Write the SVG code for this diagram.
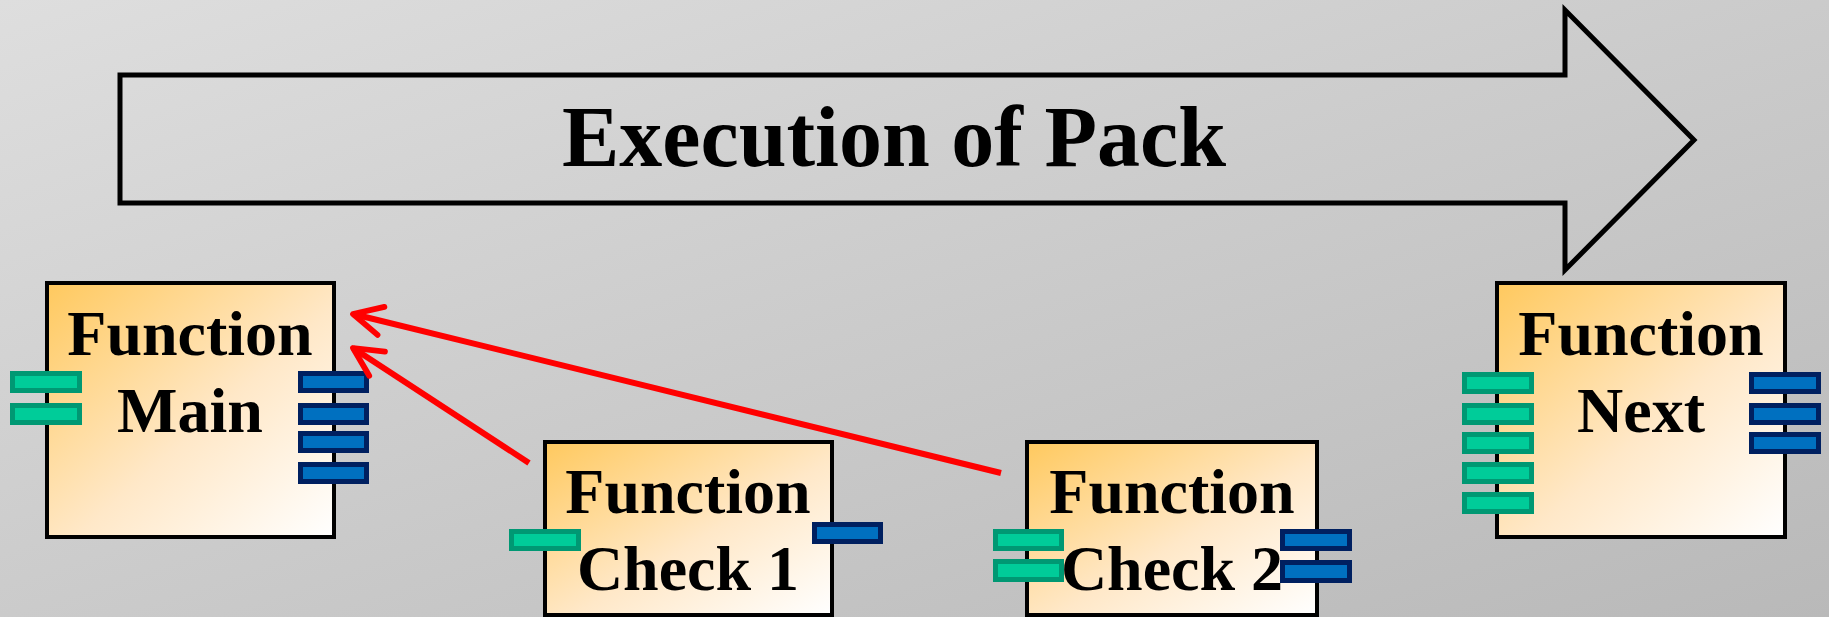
<svg xmlns="http://www.w3.org/2000/svg" width="1829" height="617" viewBox="0 0 1829 617">
  <defs>
    <linearGradient id="bg" x1="0" y1="0" x2="1" y2="1">
      <stop offset="0" stop-color="#dedede"/>
      <stop offset="0.5" stop-color="#cbcbcb"/>
      <stop offset="1" stop-color="#b9b9b9"/>
    </linearGradient>
    <linearGradient id="boxfill" x1="0" y1="0" x2="1" y2="1">
      <stop offset="0" stop-color="#ffc95e"/>
      <stop offset="0.55" stop-color="#ffe8c8"/>
      <stop offset="1" stop-color="#ffffff"/>
    </linearGradient>
    <marker id="openhead" viewBox="0 0 10 10" refX="9" refY="5" markerWidth="6" markerHeight="6" markerUnits="strokeWidth" orient="auto">
      <path d="M1,1 L9,5 L1,9" fill="none" stroke="#ff0000" stroke-width="1.6" stroke-linecap="round" stroke-linejoin="round"/>
    </marker>
    <style>
      .box { fill: url(#boxfill); stroke: #000; stroke-width: 4; }
      .lbl { font-family: "Liberation Serif", "Times New Roman", serif; font-weight: bold; font-size: 64px; fill: #000; text-anchor: middle; }
      .title { font-family: "Liberation Serif", "Times New Roman", serif; font-weight: bold; font-size: 86px; fill: #000; text-anchor: middle; }
      .pin { fill: #00cc99; stroke: #009873; stroke-width: 5; }
      .pout { fill: #0070c0; stroke: #002060; stroke-width: 5; }
      .conn { fill: none; stroke: #ff0000; stroke-width: 6; marker-end: url(#openhead); }
    </style>
  </defs>
  <rect x="0" y="0" width="1829" height="617" fill="url(#bg)"/>

  <g id="execution-arrow">
    <path d="M120,75 L1565,75 L1565,10 L1694,140 L1565,270 L1565,203 L120,203 Z" fill="none" stroke="#000" stroke-width="5" stroke-linejoin="miter"/>
    <text class="title" x="894" y="166">Execution of Pack</text>
  </g>

  <g id="function-main">
    <rect class="box" x="47" y="283" width="287" height="254"/>
    <text class="lbl" x="190" y="355">Function</text>
    <text class="lbl" x="190" y="432">Main</text>
    <rect class="pin" x="12.5" y="373.5" width="67" height="17"/>
    <rect class="pin" x="12.5" y="405.5" width="67" height="17"/>
    <rect class="pout" x="300.5" y="373.5" width="66" height="17"/>
    <rect class="pout" x="300.5" y="405.5" width="66" height="17"/>
    <rect class="pout" x="300.5" y="433.5" width="66" height="17"/>
    <rect class="pout" x="300.5" y="464.5" width="66" height="17"/>
  </g>

  <g id="function-check1">
    <rect class="box" x="545" y="442" width="287" height="173"/>
    <text class="lbl" x="688" y="513">Function</text>
    <text class="lbl" x="688" y="590">Check 1</text>
    <rect class="pin" x="511.5" y="531.5" width="67" height="17"/>
    <rect class="pout" x="814.5" y="524.5" width="66" height="17"/>
  </g>

  <g id="function-check2">
    <rect class="box" x="1027" y="442" width="290" height="173"/>
    <text class="lbl" x="1172" y="513">Function</text>
    <text class="lbl" x="1172" y="590">Check 2</text>
    <rect class="pin" x="995.5" y="531.5" width="66" height="17"/>
    <rect class="pin" x="995.5" y="561.5" width="66" height="18"/>
    <rect class="pout" x="1282.5" y="531.5" width="67" height="17"/>
    <rect class="pout" x="1282.5" y="562.5" width="67" height="18"/>
  </g>

  <g id="function-next">
    <rect class="box" x="1497" y="283" width="288" height="254"/>
    <text class="lbl" x="1641" y="355">Function</text>
    <text class="lbl" x="1641" y="432">Next</text>
    <rect class="pin" x="1464.5" y="374.5" width="67" height="17"/>
    <rect class="pin" x="1464.5" y="405.5" width="67" height="17"/>
    <rect class="pin" x="1464.5" y="434.5" width="67" height="17"/>
    <rect class="pin" x="1464.5" y="464.5" width="67" height="17"/>
    <rect class="pin" x="1464.5" y="494.5" width="67" height="17"/>
    <rect class="pout" x="1751.5" y="374.5" width="67" height="17"/>
    <rect class="pout" x="1751.5" y="405.5" width="67" height="17"/>
    <rect class="pout" x="1751.5" y="434.5" width="67" height="17"/>
  </g>

  <g id="connectors">
    <line class="conn" x1="1001" y1="473" x2="353" y2="314"/>
    <line class="conn" x1="529" y1="463" x2="353" y2="348"/>
  </g>
</svg>
